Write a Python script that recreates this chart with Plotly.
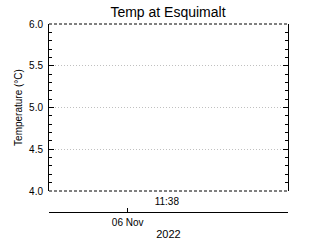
import plotly.graph_objects as go

# Data (no observations visible in the reference)
obs_times = ["2022-11-06 11:38"]
temps = [None]

title_text = "Temp at Esquimalt"
y_title = "Temperature (°C)"
x_range = ["2022-11-05 00:38", "2022-11-07 23:38"]
time_tick = ["2022-11-06 11:38"]
time_tick_text = ["11:38"]
date_tick = ["2022-11-06 00:00"]
date_tick_text = ["06 Nov"]
year_text = "2022"
y_range = [4.0, 6.0]

FONT = "Liberation Sans"

fig = go.Figure()
fig.add_trace(go.Scatter(x=obs_times, y=temps, mode="lines",
                         line=dict(color="black", width=1),
                         showlegend=False, xaxis="x", yaxis="y"))
fig.add_trace(go.Scatter(x=obs_times, y=temps, mode="lines",
                         line=dict(color="black", width=1),
                         showlegend=False, xaxis="x2", yaxis="y",
                         hoverinfo="skip"))

fig.update_layout(
    width=320, height=240,
    margin=dict(l=49, r=32, t=24, b=28, autoexpand=False),
    paper_bgcolor="white", plot_bgcolor="white",
    font=dict(family=FONT, size=10, color="black"),
    title=dict(text=title_text, x=0.525, xanchor="center", y=1 - 12/240,
               yanchor="middle", font=dict(size=14, family=FONT, color="black"),
               automargin=False),
    xaxis=dict(type="date", range=x_range, anchor="y", domain=[0, 1],
               showline=False, showgrid=False, zeroline=False,
               ticks="", tickmode="array", tickvals=time_tick,
               ticktext=time_tick_text, tickfont=dict(size=10),
               ticklabelstandoff=3,
               automargin=False, fixedrange=True),
    xaxis2=dict(type="date", range=x_range, overlaying="x", anchor="free",
                position=0, side="bottom",
                showline=True, linecolor="black", linewidth=1,
                showgrid=False, zeroline=False,
                ticks="inside", ticklen=4, tickcolor="black", tickwidth=1,
                tickmode="array", tickvals=date_tick, ticktext=date_tick_text,
                tickfont=dict(size=10), ticklabelstandoff=1,
                title=dict(text=year_text, standoff=3, font=dict(size=11)),
                automargin=False, fixedrange=True),
    yaxis=dict(range=y_range, domain=[21/188, 1], anchor="x",
               showline=True, linecolor="black", linewidth=1, mirror="ticks",
               ticks="inside", ticklen=5, tickcolor="black", tickwidth=1,
               tick0=4.0, dtick=0.5, tickformat=".1f",
               ticklabelstandoff=3,
               showgrid=True, gridcolor="#c0c0c0", griddash="1px,2px", gridwidth=1,
               zeroline=False,
               minor=dict(dtick=0.1, ticks="inside", ticklen=3,
                          tickcolor="black", showgrid=False),
               title=dict(text=y_title, standoff=4, font=dict(size=10)),
               automargin=False, fixedrange=True),
)

# dashed top and bottom frame lines
for yy in (0, 1):
    fig.add_shape(type="line", xref="x domain", yref="y domain",
                  x0=0, x1=1, y0=yy, y1=yy, layer="above",
                  line=dict(color="white", width=1))
    fig.add_shape(type="line", xref="x domain", yref="y domain",
                  x0=0, x1=1, y0=yy, y1=yy, layer="above",
                  line=dict(color="black", width=1, dash="3px,2px"))

fig.write_html("out.html", config={"displayModeBar": False})
